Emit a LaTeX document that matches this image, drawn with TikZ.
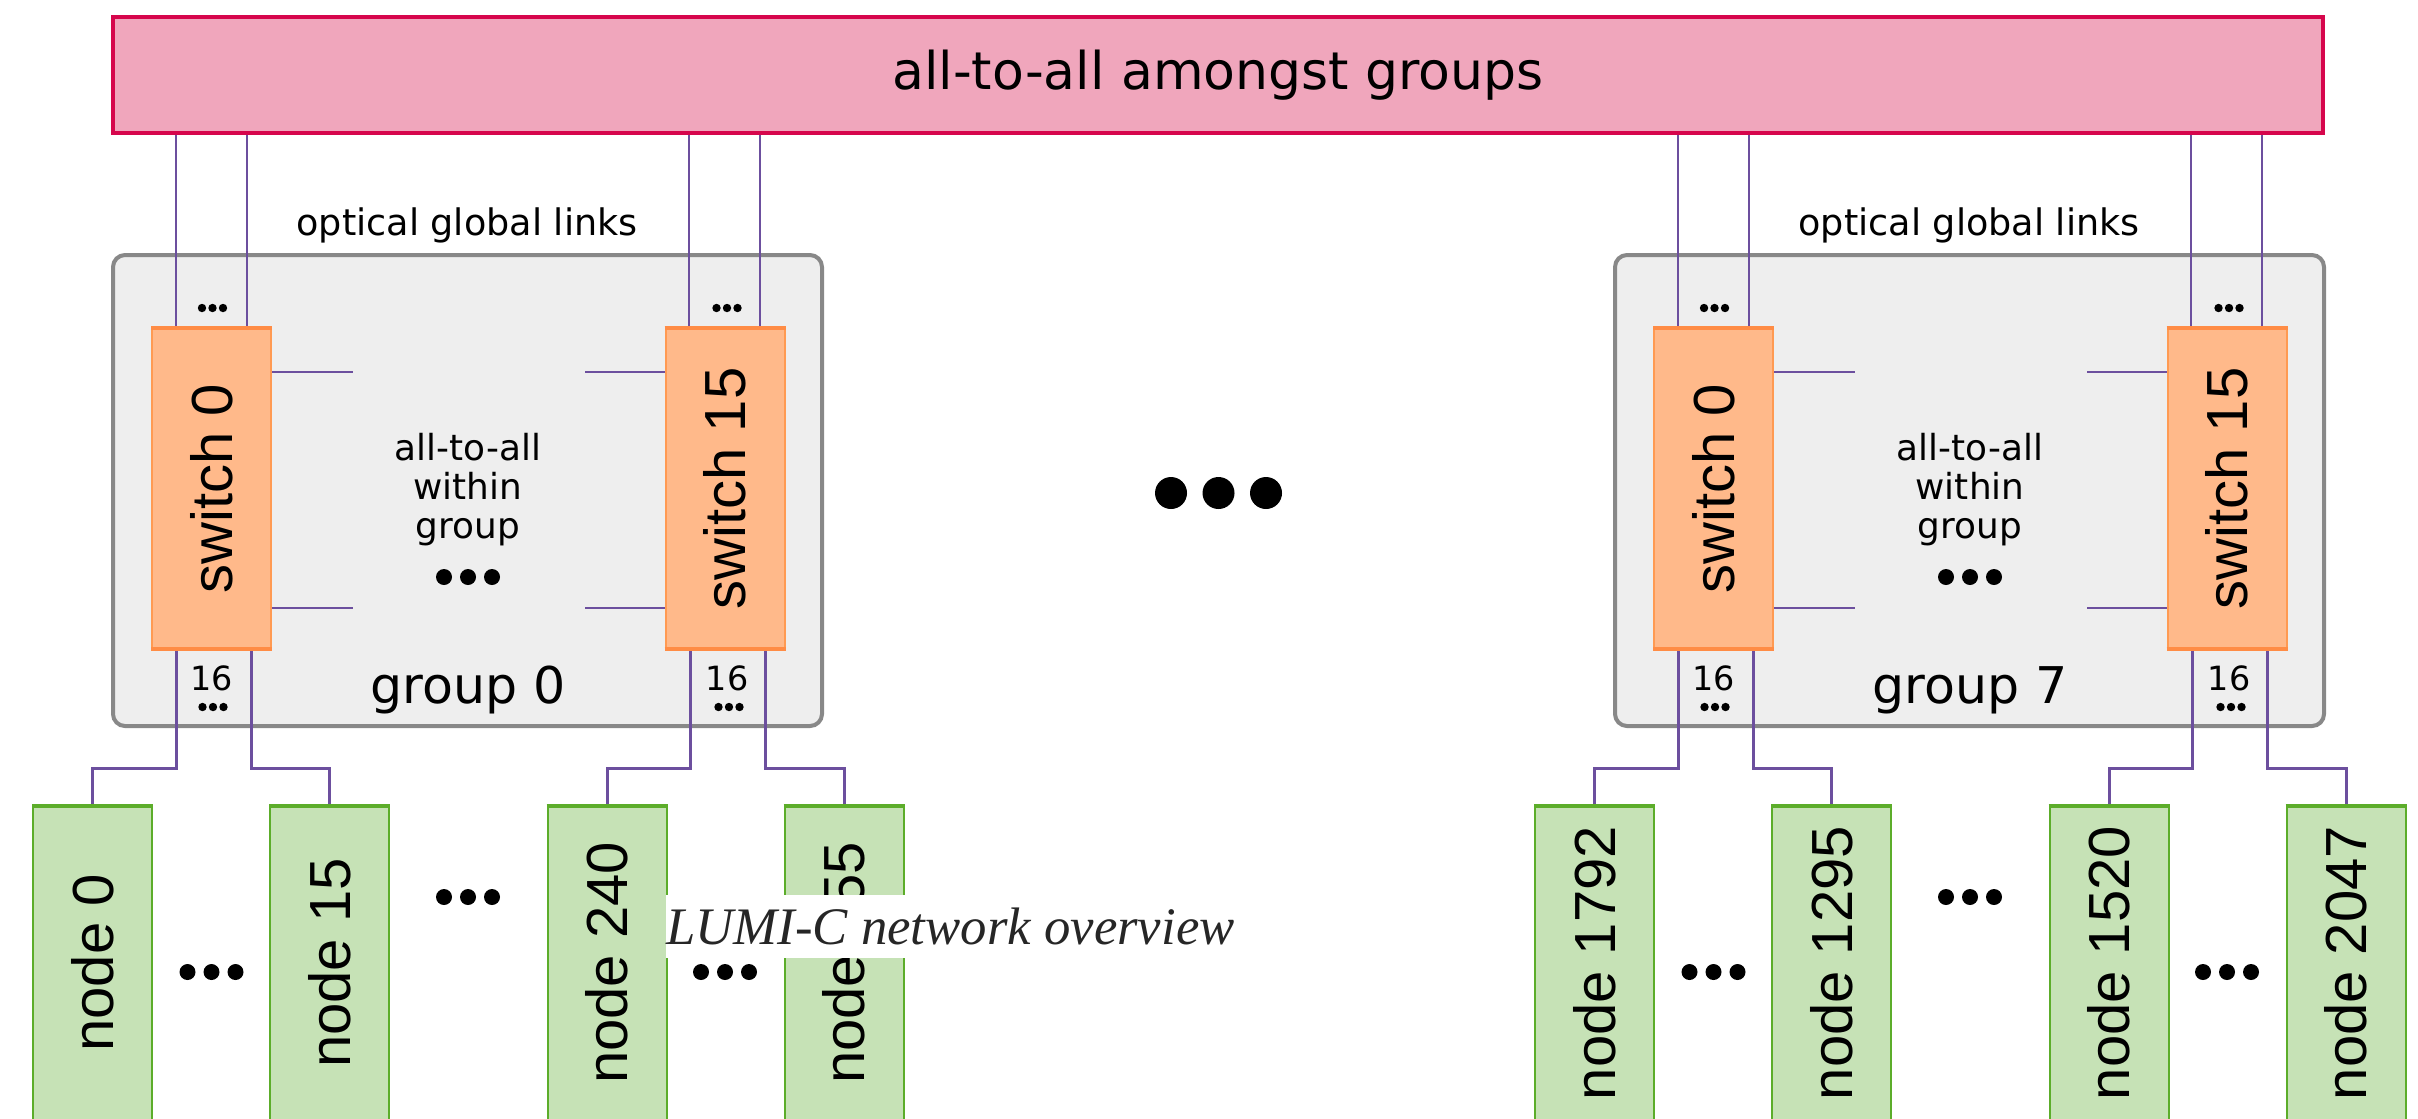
\documentclass[tikz,border=0pt]{standalone}
\usepackage{fontspec}
\setmainfont{DejaVu Sans}
\newfontfamily\rotfamily{Liberation Sans}
\newfontfamily\capfamily{Liberation Serif}
\usetikzlibrary{calc}
\definecolor{linkc}{HTML}{6C4F9E}
\definecolor{topfill}{HTML}{F0A6BC}
\definecolor{topedge}{HTML}{D6064C}
\definecolor{groupfill}{HTML}{EEEEEE}
\definecolor{groupedge}{HTML}{888888}
\definecolor{switchfill}{HTML}{FFB98A}
\definecolor{switchedge}{HTML}{FF9A52}
\definecolor{switchthick}{HTML}{FF8C45}
\definecolor{nodefill}{HTML}{C6E2B6}
\definecolor{nodeedge}{HTML}{5CAD2A}
\newcommand\fTitle{\fontsize{14.8}{17}\selectfont}
\newcommand\fOpt{\fontsize{10.4}{12}\selectfont}
\newcommand\fIn{\fontsize{10.2}{11.1}\selectfont}
\newcommand\fGrp{\fontsize{14.4}{17}\selectfont}
\newcommand\fSmall{\fontsize{9.5}{11}\selectfont}
\newcommand\fRot{\rotfamily\fontsize{16.5}{19}\selectfont}
\newcommand\fCap{\capfamily\itshape\fontsize{15}{18}\selectfont}
\begin{document}
\begin{tikzpicture}[x=0.1mm,y=-0.1mm,
  topbox/.style={draw=topedge, fill=topfill, line width=0.4mm, inner sep=0pt,
    minimum width=221mm, minimum height=11.6mm, font=\fTitle},
  groupbox/.style={draw=groupedge, fill=groupfill, line width=0.4mm, rounded corners=1.2mm,
    minimum width=70.9mm, minimum height=47.1mm, inner sep=0pt},
  switchbox/.style={draw=switchedge, fill=switchfill, line width=0.2mm, inner sep=0pt,
    minimum width=11.9mm, minimum height=32.3mm, font=\fRot},
  nodebox/.style={draw=nodeedge, fill=nodefill, line width=0.2mm, inner sep=0pt,
    minimum width=11.9mm, minimum height=31.6mm, font=\fRot},
  swthick/.style={draw=switchthick, line width=0.45mm},
  ndthick/.style={draw=nodeedge, line width=0.45mm},
  glink/.style={draw=linkc, line width=0.22mm},
  ilink/.style={draw=linkc, line width=0.25mm},
  nlink/.style={draw=linkc, line width=0.3mm},
  txt/.style={inner sep=0pt, text=black},
  pics/smalldots/.style={code={\foreach \i in {-1,0,1} \fill[black] (\i*10.5,0) circle (0.42mm);}},
  pics/meddots/.style={code={\foreach \i in {-1,0,1} \fill[black] (\i*24,0) circle (0.8mm);}},
  pics/bigdots/.style={code={\foreach \i in {-1,0,1} \fill[black] (\i*47.5,0) circle (1.6mm);}}
]
\useasboundingbox (0,0) rectangle (2418,1118);

% top all-to-all box
\node[topbox] (top) at (1218,75) {all-to-all amongst groups};

\foreach \g/\dx/\na/\nb/\nc/\nd in {0/0/0/15/240/255, 7/1502/1792/1295/1520/2047} {
  % group box
  \node[groupbox] (grp\g) at (467.5+\dx,490.5) {};
  \node[txt, font=\fOpt, anchor=base] (opt\g) at (467+\dx,235) {optical global links};

  % switches
  \node[switchbox] (sa\g) at (211.5+\dx,488.5) {\rotatebox{90}{switch 0}};
  \node[switchbox] (sb\g) at (725+\dx,488.5) {\rotatebox{90}{switch 15}};

  % compute nodes
  \node[nodebox] (na\g) at (92.5+\dx,963) {\rotatebox{90}{node \na}};
  \node[nodebox] (nb\g) at (329.5+\dx,963) {\rotatebox{90}{node \nb}};
  \node[nodebox] (nc\g) at (607+\dx,963) {\rotatebox{90}{node \nc}};
  \node[nodebox] (nd\g) at (844+\dx,963) {\rotatebox{90}{node \nd}};

  % global optical links
  \coordinate (ta\g) at ([xshift=-3.55mm]sa\g.north);
  \coordinate (tb\g) at ([xshift=3.55mm]sa\g.north);
  \coordinate (tc\g) at ([xshift=-3.6mm]sb\g.north);
  \coordinate (td\g) at ([xshift=3.5mm]sb\g.north);
  \draw[glink] (ta\g) -- (ta\g |- top.south);
  \draw[glink] (tb\g) -- (tb\g |- top.south);
  \draw[glink] (tc\g) -- (tc\g |- top.south);
  \draw[glink] (td\g) -- (td\g |- top.south);

  % links within group (free ends)
  \coordinate (ia\g) at ([xshift=8.1mm,yshift=11.65mm]sa\g.east);
  \coordinate (ib\g) at ([xshift=8.1mm,yshift=-11.95mm]sa\g.east);
  \coordinate (ic\g) at ([xshift=-8mm,yshift=11.65mm]sb\g.west);
  \coordinate (id\g) at ([xshift=-8mm,yshift=-11.95mm]sb\g.west);
  \draw[ilink] ([yshift=11.65mm]sa\g.east) -- (ia\g);
  \draw[ilink] ([yshift=-11.95mm]sa\g.east) -- (ib\g);
  \draw[ilink] ([yshift=11.65mm]sb\g.west) -- (ic\g);
  \draw[ilink] ([yshift=-11.95mm]sb\g.west) -- (id\g);

  % links to compute nodes
  \coordinate (ba\g) at ([xshift=-3.55mm]sa\g.south);
  \coordinate (bb\g) at ([xshift=3.95mm]sa\g.south);
  \coordinate (bc\g) at ([xshift=-3.5mm]sb\g.south);
  \coordinate (bd\g) at ([xshift=4mm]sb\g.south);
  \draw[nlink] (ba\g) -- ++(0,117) -| (na\g.north);
  \draw[nlink] (bb\g) -- ++(0,117) -| (nb\g.north);
  \draw[nlink] (bc\g) -- ++(0,117) -| (nc\g.north);
  \draw[nlink] (bd\g) -- ++(0,117) -| (nd\g.north);

  % redraw switches and nodes above the links, with thick edges
  \node[switchbox] at (sa\g) {\rotatebox{90}{switch 0}};
  \node[switchbox] at (sb\g) {\rotatebox{90}{switch 15}};
  \draw[swthick] ([yshift=-0.2mm]sa\g.north west) -- ([yshift=-0.2mm]sa\g.north east);
  \draw[swthick] ([yshift=0.2mm]sa\g.south west) -- ([yshift=0.2mm]sa\g.south east);
  \draw[swthick] ([yshift=-0.2mm]sb\g.north west) -- ([yshift=-0.2mm]sb\g.north east);
  \draw[swthick] ([yshift=0.2mm]sb\g.south west) -- ([yshift=0.2mm]sb\g.south east);
  \foreach \n in {na,nb,nc,nd}
    \draw[ndthick] ([yshift=-0.2mm]\n\g.north west) -- ([yshift=-0.2mm]\n\g.north east);

  % texts inside group
  \node[txt, font=\fIn, align=center] (within\g) at (468+\dx,490) {all-to-all\\within\\group};
  \node[txt, font=\fGrp, anchor=base] (glab\g) at (468+\dx,703) {group \g};
  \node[txt, font=\fSmall, anchor=base] (sixa\g) at (211.5+\dx,690) {16};
  \node[txt, font=\fSmall, anchor=base] (sixb\g) at (727+\dx,690) {16};

  % dots
  \pic at (468+\dx,577) {meddots};
  \pic at (212.5+\dx,308) {smalldots};
  \pic at (727+\dx,308) {smalldots};
  \pic at (213+\dx,707) {smalldots};
  \pic at (729+\dx,707) {smalldots};
  \pic at (211.5+\dx,972) {meddots};
  \pic at (468+\dx,897) {meddots};
  \pic at (725+\dx,972) {meddots};
}

\pic at (1218.5,493) {bigdots};

% caption overlay
\node[fill=white, inner xsep=0pt, inner ysep=0pt, text height=14.2pt, text depth=3.7pt,
  font=\fCap, text=black!85] (caption) at (950.5,926.5) {LUMI-C network overview};
\end{tikzpicture}
\end{document}
